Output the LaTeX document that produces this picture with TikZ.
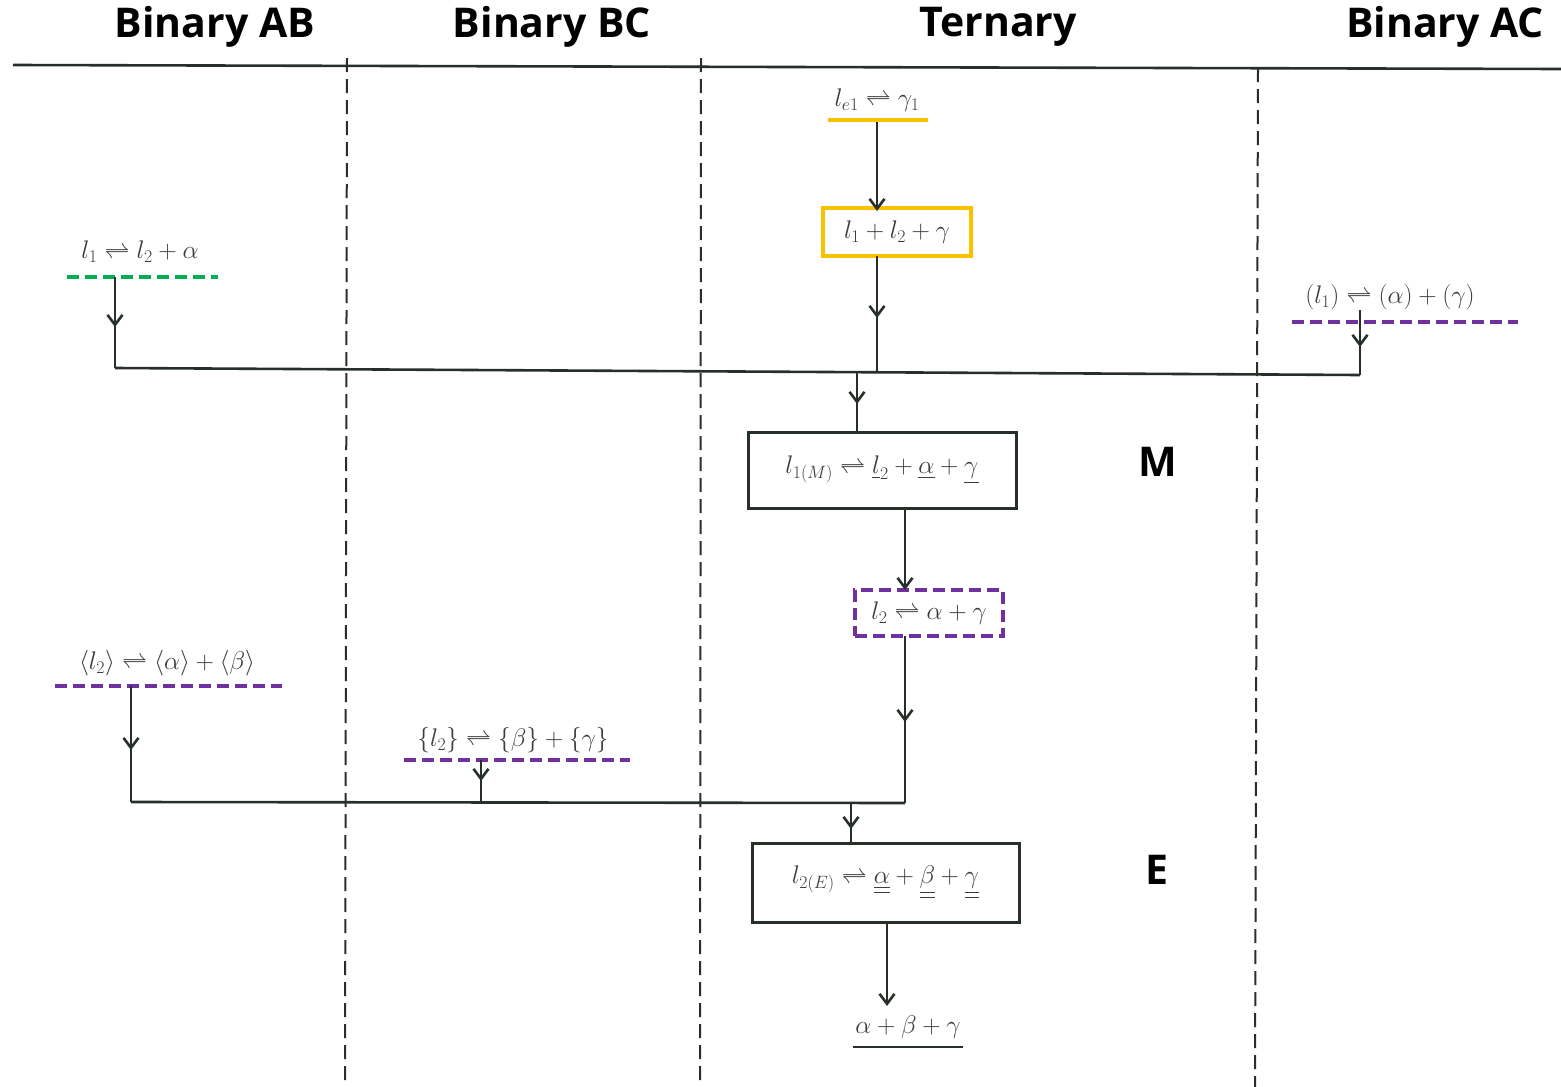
\RequirePackage{fix-cm}
\documentclass[tikz,border=0pt]{standalone}
\usepackage{amsmath}
\usepackage{fontspec}
\newfontfamily\hdr{Open Sans}
\usetikzlibrary{arrows.meta}
\definecolor{orng}{HTML}{FFC000}
\definecolor{grn}{HTML}{00B050}
\definecolor{purp}{HTML}{7030A0}
\definecolor{ink}{HTML}{263029}
\definecolor{txt}{HTML}{3C3C3C}
\begin{document}
\begin{tikzpicture}[x=1pt,y=-1pt,
  conn/.style={draw=ink, line width=2.6pt},
  arr/.style={conn, -{Straight Barb[length=10pt,width=15pt,line width=2.6pt]}},
  formula/.style={text=txt, font=\fontsize{25.5}{30}\selectfont, inner sep=0pt},
  hdrtxt/.style={font=\hdr\bfseries\fontsize{41}{48}\selectfont, text=black, inner sep=0pt},
  boxn/.style={draw=ink, line width=3pt, fill=white, inner sep=0pt},
  lanesep/.style={draw=ink, line width=2pt, dash pattern=on 14pt off 7pt},
  hilite/.style={line width=4pt},
  hdash/.style={hilite, dash pattern=on 12pt off 6pt}]
\useasboundingbox (0,0) rectangle (1561,1087);
\fill[white] (0,0) rectangle (1561,1087);

% headers
\node[hdrtxt] (hAB) at (215,27) {Binary AB};
\node[hdrtxt] (hBC) at (552,27) {Binary BC};
\node[hdrtxt] (hT) at (998,27) {Ternary};
\node[hdrtxt] (hAC) at (1445,27) {Binary AC};

% top rule and lane separators
\coordinate (tl) at (13,65);
\coordinate (tr) at (1561,69);
\draw[ink, line width=2.6pt] (tl) -- (tr);
\coordinate (d1a) at (347,58); \coordinate (d1b) at (345,1087);
\coordinate (d2a) at (701,58); \coordinate (d2b) at (700,1087);
\coordinate (d3a) at (1258,68); \coordinate (d3b) at (1255,1087);
\draw[lanesep] (d1a) -- (d1b);
\draw[lanesep] (d2a) -- (d2b);
\draw[lanesep] (d3a) -- (d3b);

% ternary top
\node[formula] (lec) at (877,100) {$l_{e1}\rightleftharpoons\gamma_1$};
\coordinate (ecL) at (828,120); \coordinate (ecR) at (928,120);
\draw[orng, hilite] (ecL) -- (ecR);
\coordinate (ec) at (877,122);
\node[boxn, draw=orng, line width=4pt, minimum width=148pt, minimum height=48pt, formula] (b1) at (897,232) {$l_1+l_2+\gamma$};
\coordinate (b1top) at (877,211);
\draw[arr] (ec) -- (b1top);
\coordinate (b1bot) at (877,256);
\coordinate (j1) at (877,372);
\coordinate (a1) at (877,318);
\draw[conn] (b1bot) -- (j1);
\draw[arr] (b1bot) -- (a1);

% binary AB top
\node[formula] (ab1) at (140,252) {$l_1\rightleftharpoons l_2+\alpha$};
\coordinate (abL) at (67,277); \coordinate (abR) at (218,277);
\draw[grn, hdash] (abL) -- (abR);
\coordinate (ab1s) at (115,277);
\coordinate (ab1a) at (115,327);
\coordinate (h1L) at (115,368);
\draw[conn] (ab1s) -- (h1L);
\draw[arr] (ab1s) -- (ab1a);

% binary AC
\node[formula] (ac1) at (1390,297) {$(l_1)\rightleftharpoons(\alpha)+(\gamma)$};
\coordinate (acL) at (1292,322); \coordinate (acR) at (1518,322);
\draw[purp, hdash] (acL) -- (acR);
\coordinate (ac1s) at (1360,310);
\coordinate (ac1a) at (1360,347);
\coordinate (h1R) at (1360,375);
\draw[conn] (ac1s) -- (h1R);
\draw[arr] (ac1s) -- (ac1a);

% first collector
\draw[conn] (h1L) -- (h1R);

% box M
\node[boxn, minimum width=268pt, minimum height=76pt, formula] (bM) at (882,470)
  {$l_{1(M)}\rightleftharpoons\underline{l}_2+\underline{\alpha}+\underline{\gamma}$};
\coordinate (j2) at (857,372);
\coordinate (a2) at (857,404);
\coordinate (bMtop) at (857,432);
\draw[conn] (j2) -- (bMtop);
\draw[arr] (j2) -- (a2);
\node[hdrtxt] (lblM) at (1158,462) {M};

% dashed purple box
\node[draw=purp, hdash, minimum width=148pt, minimum height=46pt, formula] (bP) at (929,613)
  {$l_2\rightleftharpoons\alpha+\gamma$};
\coordinate (bMbot) at (905,508);
\coordinate (bPtop) at (905,590);
\draw[arr] (bMbot) -- (bPtop);
\coordinate (bPbot) at (905,636);
\coordinate (a3) at (905,722);
\coordinate (h2R) at (905,803);
\draw[conn] (bPbot) -- (h2R);
\draw[arr] (bPbot) -- (a3);

% binary AB lower
\node[formula] (ab2) at (167,663) {$\langle l_2\rangle\rightleftharpoons\langle\alpha\rangle+\langle\beta\rangle$};
\coordinate (ab2L) at (55,686); \coordinate (ab2R) at (282,686);
\draw[purp, hdash] (ab2L) -- (ab2R);
\coordinate (ab2s) at (131,686);
\coordinate (ab2a) at (131,750);
\coordinate (h2L) at (131,802);
\draw[conn] (ab2s) -- (h2L);
\draw[arr] (ab2s) -- (ab2a);

% binary BC
\node[formula] (bc1) at (513,740) {$\{l_2\}\rightleftharpoons\{\beta\}+\{\gamma\}$};
\coordinate (bcL) at (404,760); \coordinate (bcR) at (630,760);
\draw[purp, hdash] (bcL) -- (bcR);
\coordinate (bc1s) at (481,760);
\coordinate (bc1a) at (481,781);
\coordinate (hbc) at (481,802);
\draw[conn] (bc1s) -- (hbc);
\draw[arr] (bc1s) -- (bc1a);

% second collector
\draw[conn] (h2L) -- (h2R);

% box E
\node[boxn, minimum width=267pt, minimum height=79pt, formula] (bE) at (885.5,882.5)
  {$l_{2(E)}\rightleftharpoons\underline{\underline{\alpha}}+\underline{\underline{\beta}}+\underline{\underline{\gamma}}$};
\coordinate (j3) at (851,803);
\coordinate (a4) at (851,829);
\coordinate (bEtop) at (851,843);
\draw[conn] (j3) -- (bEtop);
\draw[arr] (j3) -- (a4);
\node[hdrtxt] (lblE) at (1157,870) {E};

% final product
\coordinate (bEbot) at (887,922);
\coordinate (fin) at (887,1006);
\draw[arr] (bEbot) -- (fin);
\node[formula] (prod) at (908,1027) {$\alpha+\beta+\gamma$};
\coordinate (pL) at (853,1047); \coordinate (pR) at (963,1047);
\draw[ink, line width=2.6pt] (pL) -- (pR);
\end{tikzpicture}
\end{document}
